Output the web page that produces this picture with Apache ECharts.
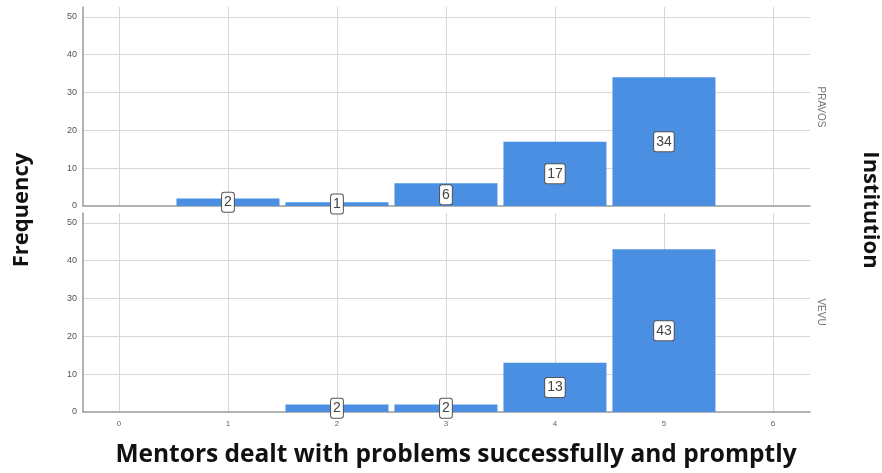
<!DOCTYPE html>
<html>
<head>
<meta charset="utf-8">
<script src="https://cdn.jsdelivr.net/npm/echarts@6/dist/echarts.min.js"></script>
<style>html,body{margin:0;padding:0;background:#fff}#c{width:882px;height:473px}</style>
</head>
<body>
<div id="c"></div>
<script>
const ratings = [1, 2, 3, 4, 5];
const pravos = [2, 1, 6, 17, 34];
const vevuRatings = [2, 3, 4, 5];
const vevu = [2, 2, 13, 43];
const panels = ['PRAVOS', 'VEVU'];
const yTicks = [0, 10, 20, 30, 40, 50];
const xTitle = 'Mentors dealt with problems successfully and promptly';
const yTitle = 'Frequency';
const panelTitle = 'Institution';

const chart = echarts.init(document.getElementById('c'));
const gridColor = '#d6d6d6';
const axisColor = '#9a9a9a';
const barColor = '#4a8fe2';

function xAx(idx, showLabels) {
  return {
    type: 'value', gridIndex: idx, min: -0.33, max: 6.34,
    axisLine: { show: true, onZero: false, lineStyle: { color: axisColor, width: 1.5 } },
    axisTick: { show: false },
    axisLabel: { show: showLabels, color: '#666', fontSize: 8, margin: 8,
      showMinLabel: false, showMaxLabel: false,
      formatter: v => Number.isInteger(v) ? String(v) : '' },
    splitLine: { show: true, showMinLine: false, showMaxLine: false, lineStyle: { color: gridColor, width: 1 } }
  };
}
function yAx(idx) {
  return {
    type: 'value', gridIndex: idx, min: yTicks[0], max: 52.6, interval: 10,
    axisLine: { show: true, onZero: false, lineStyle: { color: axisColor, width: 1.5 } },
    axisTick: { show: false },
    axisLabel: { color: '#555', fontSize: 9, margin: 6, showMaxLabel: false,
      formatter: v => yTicks.includes(v) ? String(v) : '' },
    splitLine: { show: true, showMinLine: false, showMaxLine: false, lineStyle: { color: gridColor, width: 1 } }
  };
}
const labelStyle = {
  show: true, position: 'inside', formatter: p => String(p.value[1]),
  color: '#444', fontSize: 14, fontFamily: 'Liberation Sans, Arial',
  backgroundColor: '#fff', borderColor: '#555', borderWidth: 1, borderRadius: 2,
  padding: [3, 2, 2, 2]
};

chart.setOption({
  animation: false,
  grid: [
    { left: 83, right: 72, top: 7, height: 199 },
    { left: 83, right: 72, top: 213, height: 199 }
  ],
  xAxis: [xAx(0, false), xAx(1, true)],
  yAxis: [yAx(0), yAx(1)],
  series: [
    { type: 'bar', xAxisIndex: 0, yAxisIndex: 0, barWidth: 103,
      itemStyle: { color: barColor }, label: labelStyle,
      data: ratings.map((r, i) => [r, pravos[i]]) },
    { type: 'bar', xAxisIndex: 1, yAxisIndex: 1, barWidth: 103,
      itemStyle: { color: barColor }, label: labelStyle,
      data: vevuRatings.map((r, i) => [r, vevu[i]]) }
  ],
  graphic: [
    { type: 'text', x: 22, y: 210, rotation: Math.PI / 2,
      style: { text: yTitle, font: 'bold 22px "Open Sans"', fill: '#111', align: 'center', verticalAlign: 'middle' } },
    { type: 'text', x: 870, y: 210, rotation: -Math.PI / 2,
      style: { text: panelTitle, font: 'bold 22px "Open Sans"', fill: '#111', align: 'center', verticalAlign: 'middle' } },
    { type: 'text', x: 456, y: 455,
      style: { text: xTitle, font: 'bold 24.5px "Open Sans"', fill: '#111', align: 'center', verticalAlign: 'middle' } },
    { type: 'text', x: 821, y: 107, rotation: -Math.PI / 2,
      style: { text: panels[0], font: '10px "Liberation Sans"', fill: '#777', align: 'center', verticalAlign: 'middle' } },
    { type: 'text', x: 821, y: 312, rotation: -Math.PI / 2,
      style: { text: panels[1], font: '10px "Liberation Sans"', fill: '#777', align: 'center', verticalAlign: 'middle' } }
  ]
});
</script>
</body>
</html>
